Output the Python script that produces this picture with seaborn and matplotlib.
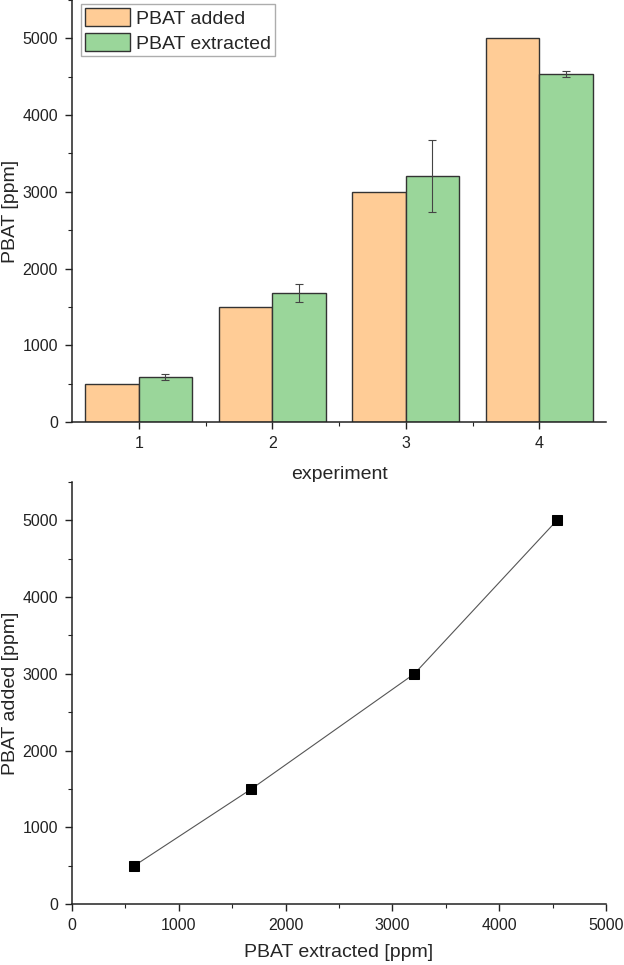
import numpy as np
import pandas as pd
import matplotlib
matplotlib.use("Agg")
import matplotlib.pyplot as plt
from matplotlib.ticker import MultipleLocator, FixedLocator
import seaborn as sns

# data
experiments = ["1", "2", "3", "4"]
pbat_added = [500, 1500, 3000, 5000]
pbat_extracted = [585, 1680, 3205, 4540]
extracted_err = [35, 120, 470, 40]
series_names = ["PBAT added", "PBAT extracted"]
colors = ["#FFCC96", "#9AD69A"]

sns.set_style("ticks")
plt.rcParams["font.family"] = ["Liberation Sans", "DejaVu Sans"]
plt.rcParams["axes.edgecolor"] = "#222222"
plt.rcParams["xtick.color"] = "#222222"
plt.rcParams["ytick.color"] = "#222222"

df = pd.DataFrame({
    "experiment": experiments * 2,
    "value": pbat_added + pbat_extracted,
    "series": [series_names[0]] * 4 + [series_names[1]] * 4,
})

fig = plt.figure(figsize=(6.24, 9.65), dpi=100)
ax1 = fig.add_axes([0.1154, 0.5627, 0.8558, 0.4373])
ax2 = fig.add_axes([0.1154, 0.0632, 0.8558, 0.4373])

# --- bar chart
sns.barplot(data=df, x="experiment", y="value", hue="series", order=experiments,
            hue_order=series_names, palette=colors, width=0.8, errorbar=None,
            edgecolor="#333333", linewidth=1.0, ax=ax1, saturation=1)

green_bars = ax1.containers[1]
centers = [p.get_x() + p.get_width() / 2 for p in green_bars]
ax1.errorbar(centers, pbat_extracted, yerr=extracted_err, fmt="none",
             ecolor="#444444", elinewidth=0.8, capsize=3, capthick=0.8)

ax1.set_xlim(-0.5, 3.5)
ax1.set_ylim(0, 5500)
ax1.yaxis.set_major_locator(FixedLocator([0, 1000, 2000, 3000, 4000, 5000]))
ax1.yaxis.set_minor_locator(MultipleLocator(500))
ax1.xaxis.set_minor_locator(FixedLocator([0.5, 1.5, 2.5]))
ax1.set_xlabel("experiment", fontsize=14, labelpad=11)
ax1.set_ylabel("PBAT [ppm]", fontsize=14)
ax1.legend(loc="upper left", bbox_to_anchor=(0.01, 1.0), fontsize=14,
           frameon=True, fancybox=False, edgecolor="#999999",
           handlelength=2.3, handleheight=1.1, handletextpad=0.3,
           borderpad=0.2, labelspacing=0.25, borderaxespad=0.2)

# --- correlation plot
sns.lineplot(x=pbat_extracted, y=pbat_added, ax=ax2, color="#555555",
             linewidth=0.8, marker="s", markersize=7, markerfacecolor="black",
             markeredgecolor="black")
ax2.set_xlim(0, 5000)
ax2.set_ylim(0, 5500)
ax2.xaxis.set_major_locator(MultipleLocator(1000))
ax2.xaxis.set_minor_locator(MultipleLocator(500))
ax2.yaxis.set_major_locator(FixedLocator([0, 1000, 2000, 3000, 4000, 5000]))
ax2.yaxis.set_minor_locator(MultipleLocator(500))
ax2.set_xlabel("PBAT extracted [ppm]", fontsize=14, labelpad=8)
ax2.set_ylabel("PBAT added [ppm]", fontsize=14)

for ax in (ax1, ax2):
    sns.despine(ax=ax)
    ax.tick_params(which="major", direction="out", length=5, width=1,
                   labelsize=11.5, pad=5)
    ax.tick_params(which="minor", direction="out", length=3, width=0.8)
    for s in ("left", "bottom"):
        ax.spines[s].set_linewidth(1.1)
    ax.yaxis.set_label_coords(-0.10, 0.5)

fig.savefig("out.png", dpi=100)
